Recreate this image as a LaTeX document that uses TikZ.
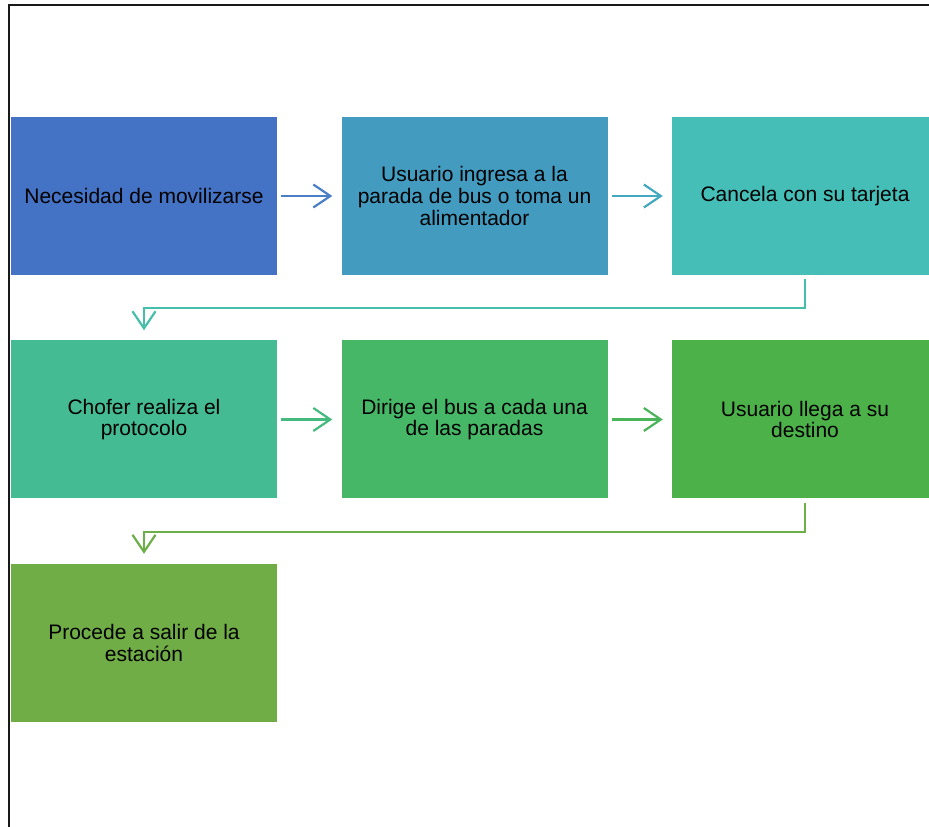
\documentclass[tikz,border=0pt]{standalone}
\usepackage{fontspec}
\setmainfont{Liberation Sans}
\usetikzlibrary{arrows.meta}

\definecolor{boxA}{HTML}{4472C4}
\definecolor{boxB}{HTML}{439CC0}
\definecolor{boxC}{HTML}{45BEB8}
\definecolor{boxD}{HTML}{44BB92}
\definecolor{boxE}{HTML}{46B766}
\definecolor{boxF}{HTML}{4DB14A}
\definecolor{boxG}{HTML}{70AD47}
\definecolor{arrAB}{HTML}{4A7FC6}
\definecolor{arrBC}{HTML}{44A9C0}
\definecolor{arrCD}{HTML}{45BFAA}
\definecolor{arrDE}{HTML}{45BA7E}
\definecolor{arrEF}{HTML}{49B458}
\definecolor{arrFG}{HTML}{6CAE48}

\tikzset{
  stepbox/.style={rectangle, inner sep=0pt, minimum width=266pt,
    minimum height=158pt, align=center, text=black,
    font=\fontsize{21}{21.7}\selectfont},
  flow/.style={line width=2.2pt, -{Straight Barb[length=17pt,width=23pt,line width=2.2pt]}},
}

\begin{document}
\begin{tikzpicture}[x=1pt,y=1pt]
  \useasboundingbox (0,0) rectangle (929,827);
  % page frame
  \draw[line width=2pt, black!90] (9,822) rectangle (940,-10);

  % process steps
  \node[stepbox, fill=boxA] (b1) at (144,631)   {Necesidad de movilizarse};
  \node[stepbox, fill=boxB] (b2) at (474.5,631) {Usuario ingresa a la\\parada de bus o toma un\\alimentador};
  \node[stepbox, fill=boxC] (b3) at (805,631)   {Cancela con su tarjeta};
  \node[stepbox, fill=boxD] (b4) at (144,407.5)   {Chofer realiza el\\protocolo};
  \node[stepbox, fill=boxE] (b5) at (474.5,407.5) {Dirige el bus a cada una\\de las paradas};
  \node[stepbox, fill=boxF] (b6) at (805,407.5)   {Usuario llega a su\\destino};
  \node[stepbox, fill=boxG] (b7) at (144,184)     {Procede a salir de la\\estación};

  % connectors
  \draw[flow, arrAB] ([xshift=4pt]b1.east) -- ([xshift=-9pt]b2.west);
  \draw[flow, arrBC] ([xshift=4pt]b2.east) -- ([xshift=-9pt]b3.west);
  \draw[flow, arrCD] ([yshift=-4pt]b3.south) -- ++(0,-29) -| ([yshift=10pt]b4.north);
  \draw[flow, arrDE] ([xshift=4pt]b4.east) -- ([xshift=-9pt]b5.west);
  \draw[flow, arrEF] ([xshift=4pt]b5.east) -- ([xshift=-9pt]b6.west);
  \draw[flow, arrFG] ([yshift=-4pt]b6.south) -- ++(0,-29) -| ([yshift=10pt]b7.north);
\end{tikzpicture}
\end{document}
